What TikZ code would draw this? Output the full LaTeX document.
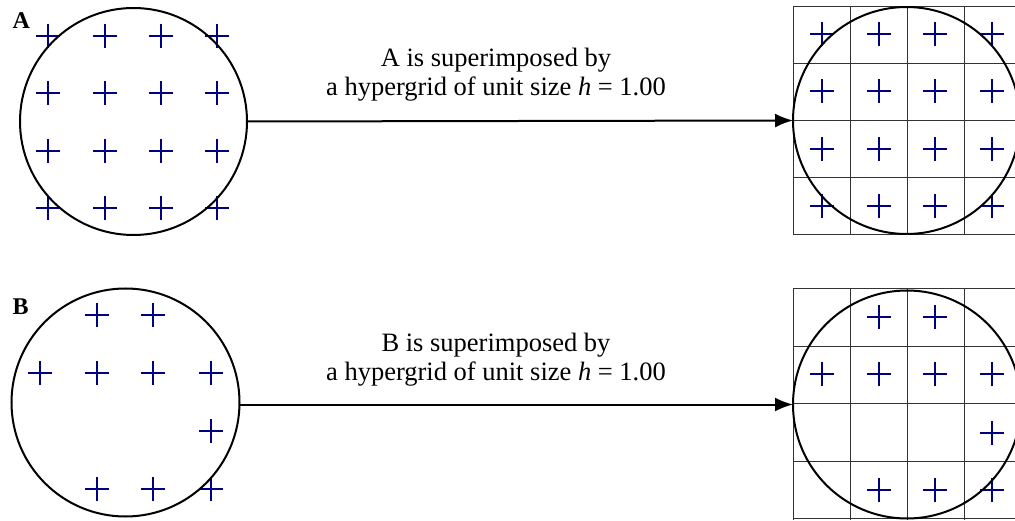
\documentclass[tikz,border=0pt]{standalone}
\usepackage{fontspec}
\setmainfont{Liberation Serif}
\usetikzlibrary{arrows.meta}
\definecolor{crossblue}{RGB}{0,0,128}
\tikzset{
  ring/.style={circle, draw=black, line width=2pt, inner sep=0pt, outer sep=0pt, minimum size=227pt},
  gridpen/.style={draw=black!80, line width=1pt},
  crosspen/.style={draw=crossblue, line width=2pt},
  pmark/.pic={\draw[crosspen] (-12pt,0pt) -- (12pt,0pt) (0pt,-12pt) -- (0pt,12pt);},
  conn/.style={draw=black, line width=2pt, -{Latex[length=18pt,width=14pt]}},
  caption/.style={align=center, inner sep=0pt, font=\fontsize{26.5}{29}\selectfont},
  tag/.style={inner sep=0pt, font=\fontsize{24}{28}\selectfont\bfseries}
}
\begin{document}
\begin{tikzpicture}[x=1pt, y=-1pt]
\useasboundingbox (0,0) rectangle (1015,521);
\fill[white] (0,0) rectangle (1015,521);
\clip (0,0) rectangle (1015,521);

% ---- grids ----
\foreach \i in {0,...,4} {
  \draw[gridpen] (793.5+57*\i, 6) -- (793.5+57*\i, 234.5);
  \draw[gridpen] (793, 6.5+57*\i) -- (1021, 6.5+57*\i);
  \draw[gridpen] (793.5+57*\i, 288.5) -- (793.5+57*\i, 519.5);
  \draw[gridpen] (793, 288.5+57.6*\i) -- (1021, 288.5+57.6*\i);
}

% ---- crosses, panel A (left) ----
\foreach \x in {48,105,161,217} {
  \foreach \y in {36,93,151,208} {
    \pic at (\x,\y) {pmark};
  }
}
% ---- crosses, panel A (right, grid) ----
\foreach \x in {822,879,935,992} {
  \foreach \y in {34,91,149,206} {
    \pic at (\x,\y) {pmark};
  }
}
% ---- crosses, panel B (left) ----
\foreach \p in {(97,315),(153,315),
                (40,373),(97,373),(153,373),(211,373),
                (211,431),
                (97,489),(153,489),(211,489)} {
  \pic at \p {pmark};
}
% ---- crosses, panel B (right, grid) ----
\foreach \p in {(879,317),(935,317),
                (822,374),(879,374),(935,374),(992,374),
                (992,433),
                (879,490),(935,490),(992,490)} {
  \pic at \p {pmark};
}

% ---- circles ----
\node[ring] (cA)  at (133.5,121.5) {};
\node[ring] (cA2) at (906.5,120.5) {};
\node[ring, minimum size=228pt] (cB)  at (125.5,402.5) {};
\node[ring, minimum size=228pt] (cB2) at (907,404.5) {};

% ---- labels ----
\node[tag, anchor=base west] (tA) at (12.5,28.5) {A};
\node[tag, anchor=base west] (tB) at (12.5,315) {B};

% ---- connectors ----
\draw[conn] (cA.east) -- (cA2.west);
\draw[conn] (cB2.west -| cB.east) -- (cB2.west);

% ---- captions ----
\node[caption, anchor=south] (capA) at (496,101) {A is superimposed by\\a hypergrid of unit size \textit{h} = 1.00};
\node[caption, anchor=south] (capB) at (496,386) {B is superimposed by\\a hypergrid of unit size \textit{h} = 1.00};
\end{tikzpicture}
\end{document}
